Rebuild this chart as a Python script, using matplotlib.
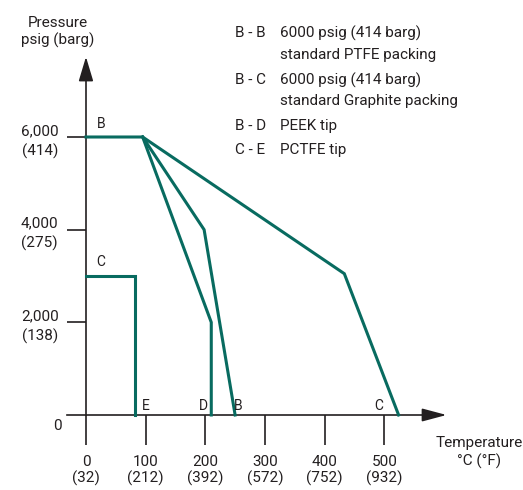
import matplotlib
matplotlib.use('Agg')
import matplotlib.pyplot as plt

plt.rcParams['font.family'] = ['Roboto', 'DejaVu Sans']

# temperature in deg C, pressure in psig
bb_temp = [0, 95, 198, 250]
bb_pres = [6000, 6000, 4000, 0]
bc_temp = [95, 433, 524]
bc_pres = [6000, 3050, 0]
bd_temp = [95, 210, 210]
bd_pres = [6000, 2000, 0]
ce_temp = [0, 82, 82]
ce_pres = [3000, 3000, 0]

x_ticks = [0, 100, 200, 300, 400, 500]
x_labels = ['0\n(32)', '100\n(212)', '200\n(392)', '300\n(572)', '400\n(752)', '500\n(932)']
y_ticks = [2000, 4000, 6000]
y_labels = ['2,000\n(138)', '4,000\n(275)', '6,000\n(414)']

end_labels = ['E', 'D', 'B', 'C']
end_temp = [100, 197, 255, 490]

legend_keys = ['B - B', '', 'B - C', '', 'B - D', 'C - E']
legend_rows = ['6000 psig (414 barg)', 'standard PTFE packing',
               '6000 psig (414 barg)', 'standard Graphite packing',
               'PEEK tip', 'PCTFE tip']
legend_y = [8245, 7770, 7231, 6777, 6238, 5720]

teal = '#086b60'
ink = '#231f20'
fs = 11

fig = plt.figure(figsize=(5.23, 4.90), dpi=100)
ax = fig.add_axes([0, 0, 1, 1])
ax.set_xlim(-144.1, 732.5)
ax.set_ylim(-1619, 8957)

for t, p in [(bb_temp, bb_pres), (bc_temp, bc_pres), (bd_temp, bd_pres), (ce_temp, ce_pres)]:
    ax.plot(t, p, color=teal, lw=2.2, solid_joinstyle='miter', clip_on=False, zorder=3)

ax.spines['right'].set_visible(False)
ax.spines['top'].set_visible(False)
ax.spines['left'].set_position(('data', 0))
ax.spines['bottom'].set_position(('data', 0))
ax.spines['left'].set_bounds(0, 7300)
ax.spines['bottom'].set_bounds(-32, 580)
for s in ['left', 'bottom']:
    ax.spines[s].set_linewidth(1.2)
    ax.spines[s].set_color(ink)

# arrow heads
ax.annotate('', xy=(0, 7790), xytext=(0, 7200),
            arrowprops=dict(arrowstyle='-|>,head_length=1.5,head_width=0.45', color=ink, lw=1.2))
ax.annotate('', xy=(609, 0), xytext=(570, 0),
            arrowprops=dict(arrowstyle='-|>,head_length=1.5,head_width=0.4', color=ink, lw=1.2))

ax.set_xticks(x_ticks)
ax.set_xticklabels(x_labels, fontsize=fs, color=ink, linespacing=1.2)
ax.set_yticks(y_ticks)
ax.set_yticklabels(y_labels, fontsize=fs, color=ink, linespacing=1.45, multialignment='center')
ax.tick_params(axis='x', direction='out', length=21.6, width=1.2, color=ink, pad=7)
ax.tick_params(axis='y', direction='out', length=13.7, width=1.2, color=ink, pad=6)

ax.text(-48, -230, '0', fontsize=fs, color=ink, ha='center', va='center')

# axis titles
ax.text(-48, 8267, 'Pressure\npsig (barg)', fontsize=fs, color=ink,
        ha='center', va='center', linespacing=1.3)
ax.text(659, -800, 'Temperature\n°C (°F)', fontsize=fs, color=ink,
        ha='center', va='center', linespacing=1.3)

# curve labels
ax.text(25, 6280, 'B', fontsize=10, color=ink, ha='center', va='center')
ax.text(25, 3300, 'C', fontsize=10, color=ink, ha='center', va='center')
for lab, t in zip(end_labels, end_temp):
    ax.text(t, 190, lab, fontsize=10, color=ink, ha='center', va='center')

# legend text
for k, txt, y in zip(legend_keys, legend_rows, legend_y):
    ax.text(250, y, k, fontsize=fs, color=ink, ha='left', va='center')
    ax.text(325, y, txt, fontsize=fs, color=ink, ha='left', va='center')

fig.savefig('out.png', dpi=100)
